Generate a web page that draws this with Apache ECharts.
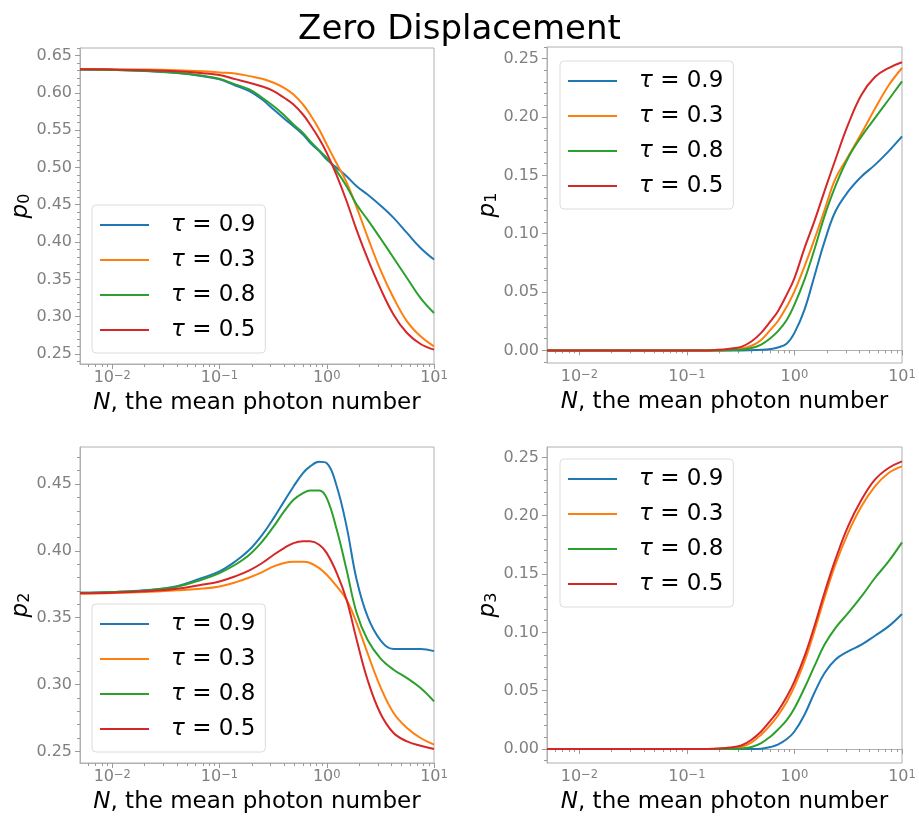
<!DOCTYPE html>
<html>
<head>
<meta charset="utf-8">
<script src="https://cdn.jsdelivr.net/npm/echarts@6/dist/echarts.min.js"></script>
<style>html,body{margin:0;padding:0;background:#fff;}#c{width:919px;height:819px;}</style>
</head>
<body>
<div id="c"></div>
<script>
// ---- data ----
const N = [0.005, 0.01, 0.02, 0.04, 0.07, 0.1, 0.14, 0.19, 0.25, 0.32, 0.4, 0.49, 0.6, 0.7, 0.85, 1, 1.24, 1.53, 1.9, 2.4, 3.15, 4.2, 5.6, 7.5, 10];
const tauLabels = ['τ = 0.9', 'τ = 0.3', 'τ = 0.8', 'τ = 0.5'];

const p0_t09 = [0.6313, 0.6306, 0.6292, 0.6264, 0.6222, 0.618, 0.6098, 0.6022, 0.591, 0.5776, 0.5656, 0.5553, 0.5441, 0.5329, 0.5218, 0.5106, 0.4994, 0.4882, 0.4748, 0.4637, 0.4493, 0.4324, 0.4122, 0.392, 0.3765];
const p0_t03 = [0.6318, 0.6315, 0.6311, 0.6301, 0.6287, 0.6273, 0.6259, 0.6223, 0.6188, 0.6134, 0.6067, 0.5978, 0.5843, 0.571, 0.5508, 0.5307, 0.505, 0.480, 0.4465, 0.407, 0.3635, 0.3251, 0.2938, 0.2737, 0.2603];
const p0_t08 = [0.6313, 0.6307, 0.6294, 0.6267, 0.6228, 0.6188, 0.6112, 0.6045, 0.5933, 0.582, 0.570, 0.5575, 0.5463, 0.5352, 0.5227, 0.5128, 0.495, 0.4748, 0.4502, 0.4301, 0.4055, 0.3787, 0.3519, 0.325, 0.305];
const p0_t05 = [0.6316, 0.6312, 0.6303, 0.6287, 0.6262, 0.6237, 0.6183, 0.6134, 0.6085, 0.6022, 0.5933, 0.5843, 0.5709, 0.5575, 0.5383, 0.5195, 0.489, 0.455, 0.416, 0.378, 0.3385, 0.3027, 0.2781, 0.2634, 0.2558];

const p1_t09 = [0, 0, 0, 0, 0, 0, 0, 0, 0, 0, 0.0002, 0.0005, 0.0012, 0.0025, 0.006, 0.015, 0.035, 0.0634, 0.093, 0.119, 0.136, 0.149, 0.159, 0.1706, 0.1834];
const p1_t03 = [0, 0, 0, 0, 0, 0, 0, 0, 0.0005, 0.0015, 0.004, 0.009, 0.0178, 0.025, 0.0377, 0.0506, 0.072, 0.0949, 0.12, 0.147, 0.166, 0.186, 0.207, 0.227, 0.242];
const p1_t08 = [0, 0, 0, 0, 0, 0, 0, 0, 0.0002, 0.0005, 0.002, 0.005, 0.0106, 0.0163, 0.0263, 0.0392, 0.0606, 0.0863, 0.1149, 0.1406, 0.1649, 0.1834, 0.1991, 0.2148, 0.2306];
const p1_t05 = [0, 0, 0, 0, 0, 0, 0, 0.0005, 0.0015, 0.003, 0.0078, 0.015, 0.025, 0.0334, 0.048, 0.062, 0.0877, 0.1106, 0.1363, 0.1634, 0.1934, 0.2191, 0.2343, 0.242, 0.2469];

const p2_t09 = [0.3686, 0.3692, 0.3705, 0.3735, 0.380, 0.3846, 0.392, 0.4008, 0.412, 0.4245, 0.437, 0.4482, 0.4582, 0.4632, 0.4666, 0.4656, 0.4482, 0.4183, 0.3784, 0.351, 0.3335, 0.3265, 0.3265, 0.3265, 0.325];
const p2_t03 = [0.3680, 0.3684, 0.3692, 0.3705, 0.3718, 0.3734, 0.3764, 0.3801, 0.3841, 0.3884, 0.3909, 0.3918, 0.3918, 0.3909, 0.3871, 0.3821, 0.3734, 0.3634, 0.346, 0.3235, 0.2986, 0.2787, 0.2675, 0.260, 0.255];
const p2_t08 = [0.3686, 0.3692, 0.3704, 0.3732, 0.3788, 0.3834, 0.3896, 0.3971, 0.407, 0.4183, 0.4295, 0.4382, 0.4432, 0.4452, 0.4452, 0.4395, 0.4158, 0.3859, 0.3535, 0.3335, 0.3198, 0.3111, 0.3048, 0.2974, 0.2874];
const p2_t05 = [0.3682, 0.3687, 0.3697, 0.3716, 0.3748, 0.3771, 0.3809, 0.3854, 0.3909, 0.3971, 0.4021, 0.4058, 0.4071, 0.4071, 0.4046, 0.3983, 0.3834, 0.3634, 0.3335, 0.3036, 0.2787, 0.2637, 0.2575, 0.2542, 0.2517];

const p3_t09 = [0, 0, 0, 0, 0, 0, 0, 0, 0, 0, 0, 0.0003, 0.0017, 0.0037, 0.0085, 0.015, 0.0294, 0.048, 0.065, 0.0765, 0.0837, 0.0894, 0.0971, 0.1051, 0.1157];
const p3_t03 = [0, 0, 0, 0, 0, 0, 0, 0, 0.0005, 0.0017, 0.0057, 0.0123, 0.0208, 0.0285, 0.0408, 0.0537, 0.0751, 0.1008, 0.1294, 0.158, 0.1851, 0.208, 0.2251, 0.2366, 0.2423];
const p3_t08 = [0, 0, 0, 0, 0, 0, 0, 0, 0, 0.0005, 0.0017, 0.005, 0.0108, 0.0165, 0.025, 0.035, 0.0523, 0.0708, 0.0894, 0.1037, 0.1165, 0.1308, 0.1466, 0.1608, 0.1771];
const p3_t05 = [0, 0, 0, 0, 0, 0, 0, 0.0005, 0.0012, 0.003, 0.008, 0.015, 0.0245, 0.0323, 0.045, 0.058, 0.0794, 0.105, 0.1337, 0.1623, 0.1909, 0.2137, 0.2309, 0.2409, 0.2466];

const xMajorTicks = [0.01, 0.1, 1, 10];
const xMajorExponents = ['−2', '−1', '0', '1'];
const yTicksA = [0.25, 0.30, 0.35, 0.40, 0.45, 0.50, 0.55, 0.60, 0.65];
const yTicksB = [0.00, 0.05, 0.10, 0.15, 0.20, 0.25];
const yTicksC = [0.25, 0.30, 0.35, 0.40, 0.45];

// ---- layout ----
const FONT = 'DejaVu Sans';
const COLORS = ['#1f77b4', '#ff7f0e', '#2ca02c', '#d62728'];
const panels = [
  {series: [p0_t09, p0_t03, p0_t08, p0_t05], ticks: yTicksA, yMin: 0.2366, yMax: 0.660, sub: '0', grid: {left: 80, top: 48, width: 354, height: 316}, legend: [92, 205]},
  {series: [p1_t09, p1_t03, p1_t08, p1_t05], ticks: yTicksB, yMin: -0.0108, yMax: 0.260, sub: '1', grid: {left: 547, top: 47, width: 355, height: 316}, legend: [560, 61]},
  {series: [p2_t09, p2_t03, p2_t08, p2_t05], ticks: yTicksC, yMin: 0.2413, yMax: 0.4777, sub: '2', grid: {left: 80, top: 447, width: 354, height: 316}, legend: [92, 604]},
  {series: [p3_t09, p3_t03, p3_t08, p3_t05], ticks: yTicksB, yMin: -0.012, yMax: 0.2589, sub: '3', grid: {left: 547, top: 447, width: 355, height: 316}, legend: [560, 459]}
];

const xMinor = [];
[0.001, 0.01, 0.1, 1].forEach(d => { for (let k = 2; k <= 9; k++) { const v = +(k * d).toPrecision(3); if (v > 0.005 && v < 10) xMinor.push(v); } });
function yMinorFor(lo, hi) {
  const out = [];
  for (let i = Math.ceil(lo * 100); i <= Math.floor(hi * 100); i++) { if (i % 5 !== 0) out.push(+(i / 100).toFixed(2)); }
  return out;
}

const SPINE = '#b0b0b0', TICK = '#9a9a9a', LABEL = '#808080';
const grids = [], xAxes = [], yAxes = [], series = [], legends = [];
panels.forEach((p, g) => {
  grids.push(Object.assign({show: true, borderColor: SPINE, borderWidth: 1, containLabel: false}, p.grid));
  xAxes.push({
    type: 'log', logBase: 10, gridIndex: g, min: 0.005, max: 10, position: 'bottom',
    axisLine: {show: true, lineStyle: {color: SPINE}},
    axisTick: {show: true, length: 5, lineStyle: {color: TICK}, customValues: xMajorTicks},
    axisLabel: {customValues: xMajorTicks, color: LABEL, fontSize: 16, fontFamily: FONT, margin: 6,
      formatter: v => '{b|10}{s|' + xMajorExponents[Math.round(Math.log10(v)) + 2] + '}',
      rich: {b: {fontSize: 16, color: LABEL, fontFamily: FONT},
             s: {fontSize: 11.5, color: LABEL, fontFamily: FONT, verticalAlign: 'top'}}},
    splitLine: {show: false}, minorTick: {show: false}, minorSplitLine: {show: false},
    name: '{i|N}, the mean photon number', nameLocation: 'middle', nameGap: 28,
    nameTextStyle: {color: '#000', fontSize: 23, fontFamily: FONT,
      rich: {i: {fontStyle: 'italic', fontSize: 23, fontFamily: FONT, color: '#000'}}}
  });
  xAxes.push({
    type: 'log', logBase: 10, gridIndex: g, min: 0.005, max: 10, position: 'bottom',
    axisLine: {show: false}, axisLabel: {show: false}, splitLine: {show: false},
    axisTick: {show: true, length: 3, lineStyle: {color: TICK}, customValues: xMinor}
  });
  yAxes.push({
    type: 'value', gridIndex: g, min: p.yMin, max: p.yMax, position: 'left',
    axisLine: {show: true, lineStyle: {color: SPINE}},
    axisTick: {show: true, length: 5, lineStyle: {color: TICK}, customValues: p.ticks},
    axisLabel: {customValues: p.ticks, color: LABEL, fontSize: 16, fontFamily: FONT, margin: 8,
      formatter: v => v.toFixed(2)},
    splitLine: {show: false},
    name: '{p|p}{s|' + p.sub + '}', nameLocation: 'middle', nameRotate: 90, nameGap: 47,
    nameTextStyle: {color: '#000', fontFamily: FONT,
      rich: {p: {fontStyle: 'italic', fontSize: 23, fontFamily: FONT, color: '#000'},
             s: {fontSize: 16, fontFamily: FONT, color: '#000', verticalAlign: 'bottom'}}}
  });
  yAxes.push({
    type: 'value', gridIndex: g, min: p.yMin, max: p.yMax, position: 'left',
    axisLine: {show: false}, axisLabel: {show: false}, splitLine: {show: false},
    axisTick: {show: true, length: 3, lineStyle: {color: TICK}, customValues: yMinorFor(p.yMin, p.yMax)}
  });
  p.series.forEach((vals, k) => {
    series.push({
      type: 'line', name: tauLabels[k], xAxisIndex: 2 * g, yAxisIndex: 2 * g,
      data: N.map((n, i) => [n, vals[i]]),
      smooth: 0.4, symbol: 'none', showSymbol: false,
      lineStyle: {color: COLORS[k], width: 2}, itemStyle: {color: COLORS[k]},
      z: 2 + k, animation: false
    });
  });
  legends.push({
    orient: 'vertical', left: p.legend[0], top: p.legend[1], data: tauLabels,
    icon: 'rect', itemWidth: 49, itemHeight: 2.2, itemGap: 5,
    padding: [5, 10, 8, 8],
    backgroundColor: 'rgba(255,255,255,0.85)', borderColor: '#dcdcdc', borderWidth: 1, borderRadius: 4,
    formatter: name => '{t|τ}' + name.slice(1),
    textStyle: {fontSize: 23, fontFamily: FONT, color: '#000', lineHeight: 30, padding: [0, 0, 0, 17],
      rich: {t: {fontStyle: 'italic', fontSize: 23, fontFamily: FONT, color: '#000', lineHeight: 30}}},
    selectedMode: false
  });
});

const chart = echarts.init(document.getElementById('c'), null, {renderer: 'canvas'});
chart.setOption({
  animation: false,
  color: COLORS,
  title: {text: 'Zero Displacement', left: 'center', top: 8,
    textStyle: {fontSize: 34, fontWeight: 'normal', color: '#000', fontFamily: FONT}},
  grid: grids, xAxis: xAxes, yAxis: yAxes, series: series, legend: legends
});
</script>
</body>
</html>
